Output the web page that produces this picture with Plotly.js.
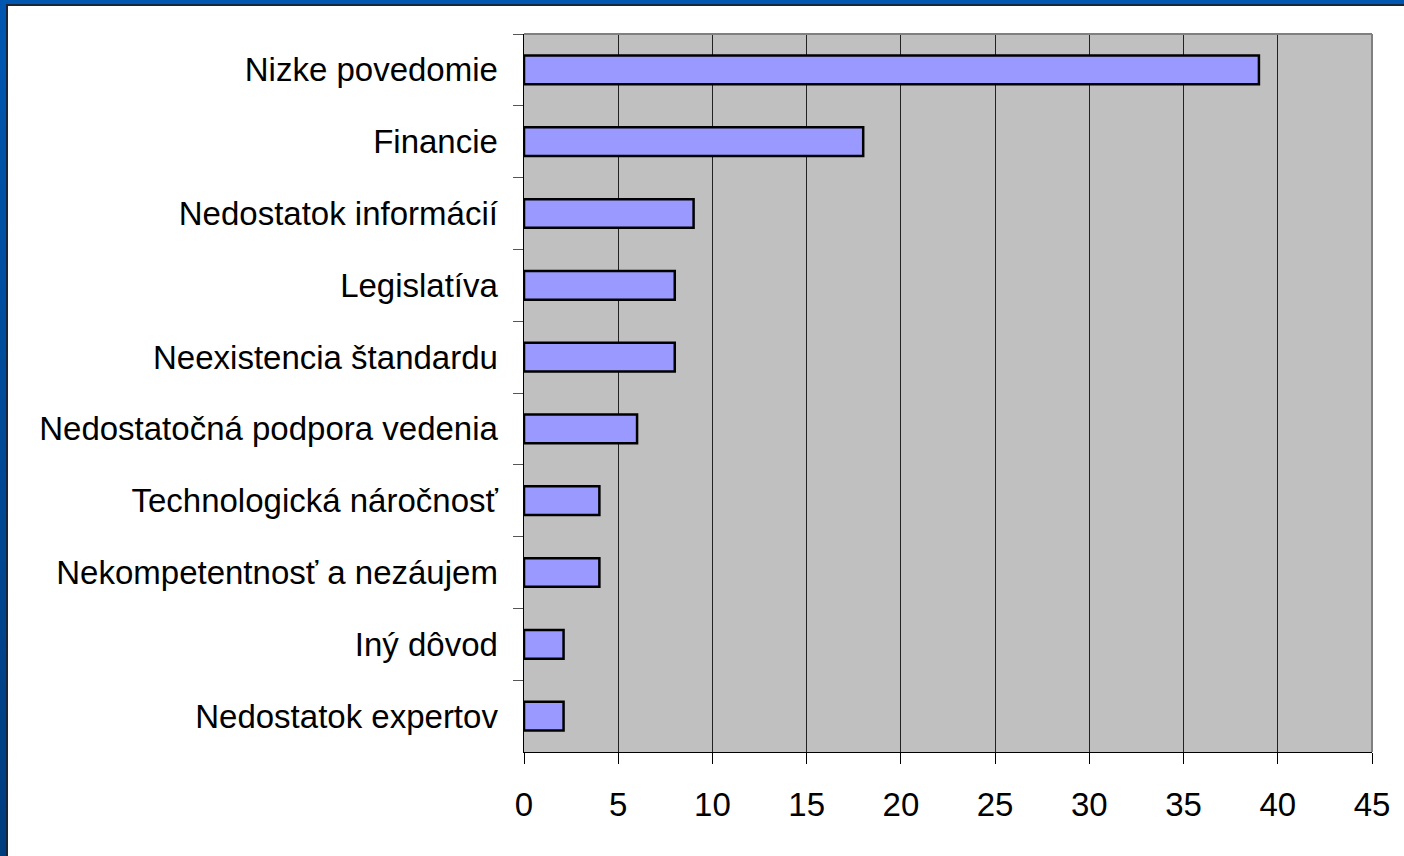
<!DOCTYPE html>
<html>
<head>
<meta charset="utf-8">
<script src="https://cdn.plot.ly/plotly-3.0.1.min.js"></script>
<style>
  html, body { margin: 0; padding: 0; width: 1404px; height: 856px; overflow: hidden; }
  body { background: linear-gradient(to bottom, #0057b0 0%, #004a98 50%, #003d7e 100%); position: relative; }
  #frame { position: absolute; left: 6px; top: 4px; width: 1398px; height: 852px; background: #1a2638; }
  #chart { position: absolute; left: 8px; top: 6px; width: 1396px; height: 850px; background: #fff; }
</style>
</head>
<body>
<div id="frame"></div>
<div id="chart"></div>
<script>
const categories = [
  "Nizke povedomie",
  "Financie",
  "Nedostatok informácií",
  "Legislatíva",
  "Neexistencia štandardu",
  "Nedostatočná podpora vedenia",
  "Technologická náročnosť",
  "Nekompetentnosť a nezáujem",
  "Iný dôvod",
  "Nedostatok expertov"
];
const values = [39, 18, 9, 8, 8, 6, 4, 4, 2.1, 2.1];
const xTicks = [0, 5, 10, 15, 20, 25, 30, 35, 40, 45];

const font = { family: "Liberation Sans, Arial, sans-serif", size: 33, color: "#000" };

const trace = {
  type: "bar",
  orientation: "h",
  x: values,
  y: categories,
  marker: { color: "#9999ff", line: { color: "#000", width: 2.5 } },
  hoverinfo: "skip"
};

const layout = {
  width: 1396,
  height: 850,
  margin: { l: 516, r: 32, t: 28, b: 104 },
  paper_bgcolor: "#ffffff",
  plot_bgcolor: "#c0c0c0",
  bargap: 0.6,
  showlegend: false,
  font: font,
  xaxis: {
    range: [0, 45],
    tickvals: xTicks,
    ticktext: xTicks.map(String),
    showgrid: true,
    gridcolor: "#222",
    gridwidth: 1,
    zeroline: false,
    showline: true,
    linecolor: "#000",
    linewidth: 1,
    ticks: "outside",
    ticklen: 11,
    tickwidth: 1,
    tickcolor: "#000",
    ticklabelstandoff: 12,
    tickfont: font,
    fixedrange: true
  },
  yaxis: {
    type: "category",
    autorange: "reversed",
    tickson: "boundaries",
    ticks: "outside",
    ticklen: 10,
    tickwidth: 1,
    tickcolor: "#555",
    showline: true,
    linecolor: "#000",
    linewidth: 1.5,
    showgrid: false,
    ticklabelstandoff: 18,
    tickfont: font,
    fixedrange: true
  },
  shapes: [
    { type: "line", xref: "paper", yref: "paper", x0: 0, x1: 1, y0: 1, y1: 1,
      line: { color: "#808080", width: 2 } },
    { type: "line", xref: "paper", yref: "paper", x0: 1, x1: 1, y0: 0, y1: 1,
      line: { color: "#808080", width: 2 } }
  ]
};

Plotly.newPlot("chart", [trace], layout, { displayModeBar: false, staticPlot: true });
</script>
</body>
</html>
